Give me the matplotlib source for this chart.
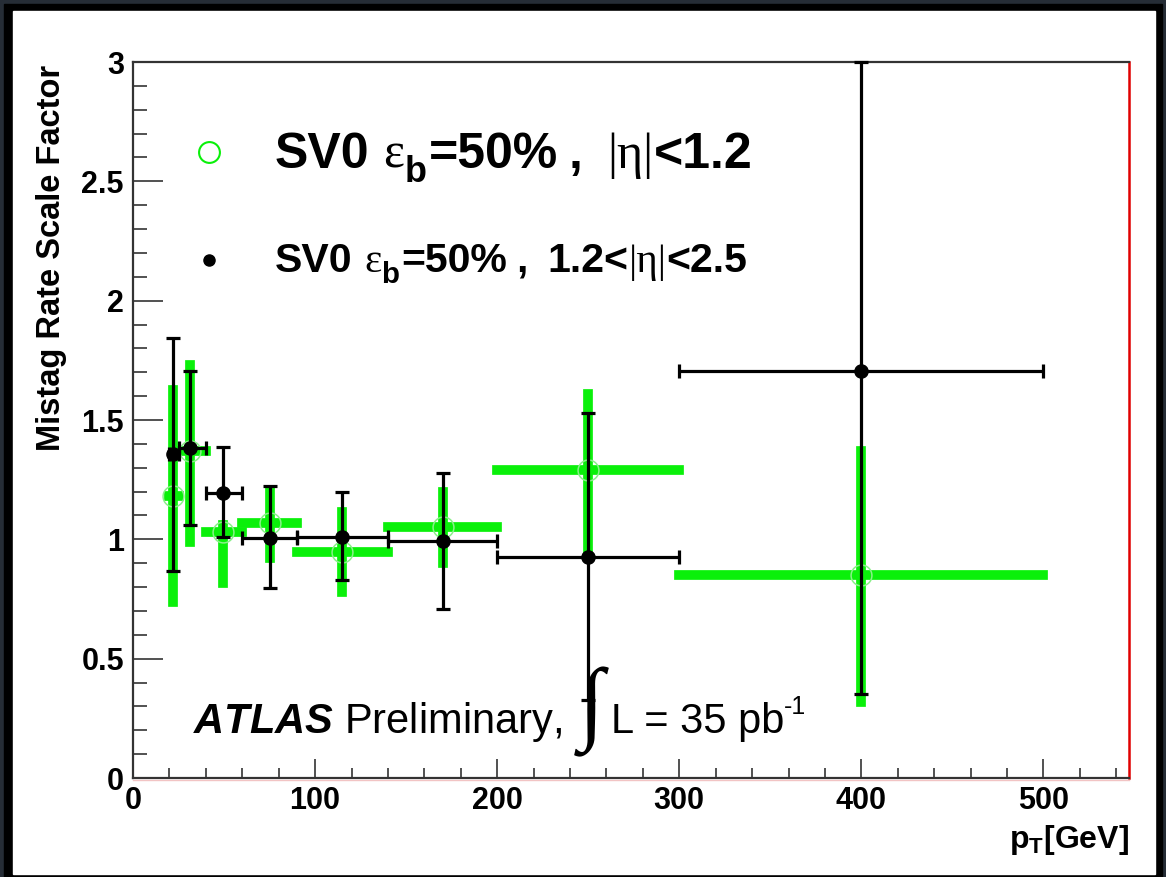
import matplotlib
matplotlib.use("Agg")
import matplotlib.pyplot as plt
from matplotlib.patches import Rectangle
from matplotlib.lines import Line2D
from matplotlib.ticker import MultipleLocator

# pT bins (GeV) and measured points
bin_lo = [20, 25, 40, 60, 90, 140, 200, 300]
bin_hi = [25, 40, 60, 90, 140, 200, 300, 500]
pt_point = [21.8, 31.5, 49.3, 75, 115, 170, 250, 400]
x_ticks = [0, 100, 200, 300, 400, 500]
y_ticks = [0, 0.5, 1, 1.5, 2, 2.5, 3]

# |eta| < 1.2
sf_central = [1.18, 1.37, 1.03, 1.07, 0.945, 1.053, 1.29, 0.85]
sf_central_hi = [1.625, 1.73, 1.06, 1.20, 1.115, 1.20, 1.61, 1.37]
sf_central_lo = [0.739, 0.99, 0.815, 0.92, 0.78, 0.90, 0.96, 0.32]

# 1.2 < |eta| < 2.5
sf_forward = [1.357, 1.383, 1.195, 1.004, 1.011, 0.994, 0.926, 1.705]
sf_forward_hi = [1.842, 1.706, 1.388, 1.223, 1.20, 1.28, 1.53, 3.0]
sf_forward_lo = [0.868, 1.06, 1.011, 0.795, 0.83, 0.71, 0.327, 0.35]

W, H = 1166, 877
SANS = ['Liberation Sans', 'DejaVu Sans']
SERIF = ['Liberation Serif', 'DejaVu Serif']
plt.rcParams['font.family'] = SANS
plt.rcParams['font.weight'] = 'bold'
plt.rcParams['mathtext.fontset'] = 'custom'
plt.rcParams['mathtext.rm'] = 'Liberation Sans:bold'
plt.rcParams['mathtext.bf'] = 'Liberation Sans:bold'
plt.rcParams['mathtext.it'] = 'Liberation Sans:bold:italic'


def fx(x):
    return x / W


def fy(y):
    return 1 - y / H


fig = plt.figure(figsize=(W / 100, H / 100), dpi=100, facecolor='#262d36')
renderer = fig.canvas.get_renderer()
fig.add_artist(Rectangle((fx(4), fy(877)), (1162 - 4) / W, (877 - 4) / H,
                         transform=fig.transFigure, color='black', zorder=-10))
fig.add_artist(Rectangle((fx(13), fy(874)), (1155 - 13) / W, (874 - 11) / H,
                         transform=fig.transFigure, color='white', zorder=-9))

ax = fig.add_axes([fx(133), fy(778), (1129 - 133) / W, (778 - 62) / H])
ax.set_facecolor('none')
ax.set_xlim(0, 547)
ax.set_ylim(0, 3)


def xerr(points):
    return [[p - lo for p, lo in zip(points, bin_lo)],
            [hi - p for p, hi in zip(points, bin_hi)]]


def yerr(vals, lo, hi):
    return [[v - l for v, l in zip(vals, lo)], [h - v for v, h in zip(vals, hi)]]


green = '#0af00a'
eb = ax.errorbar(pt_point, sf_central, xerr=xerr(pt_point),
                 yerr=yerr(sf_central, sf_central_lo, sf_central_hi),
                 fmt='o', mfc='none', mec='#8af08a', ms=15, mew=1.1,
                 ecolor=green, elinewidth=7, capsize=0, zorder=2)
for lc in eb[2]:
    lc.set_capstyle('projecting')

ax.errorbar(pt_point, sf_forward, xerr=xerr(pt_point),
            yerr=yerr(sf_forward, sf_forward_lo, sf_forward_hi),
            fmt='o', color='black', ms=9.5, elinewidth=2.3,
            capsize=5, capthick=2.3, zorder=3, clip_on=False)

# axes styling
for side in ['left', 'top', 'bottom']:
    ax.spines[side].set_color('#333333')
    ax.spines[side].set_linewidth(1.6)
ax.spines['right'].set_color('#e00000')
ax.spines['right'].set_linewidth(1.8)

ax.set_xticks(x_ticks)
ax.set_yticks(y_ticks)
ax.set_yticklabels(['0', '0.5', '1', '1.5', '2', '2.5', '3'])
ax.xaxis.set_minor_locator(MultipleLocator(20))
ax.yaxis.set_minor_locator(MultipleLocator(0.1))
ax.tick_params(axis='both', which='both', direction='in', color='#333333',
               width=1.2, top=False, right=False, labelsize=22)
ax.tick_params(axis='y', which='major', length=21.5, pad=6.5)
ax.tick_params(axis='y', which='minor', length=10)
ax.tick_params(axis='x', which='major', length=13.5, pad=6.0)
ax.tick_params(axis='x', which='minor', length=7)

fig.add_artist(Line2D([fx(133), fx(1129)], [fy(780), fy(780)],
                      transform=fig.transFigure, color='#f2c4c4', lw=1.0))

# axis titles
fig.text(fx(52), fy(65), 'Mistag Rate Scale Factor', rotation=90,
         ha='center', va='top', fontsize=23.5, fontweight='bold')
fig.text(fx(1129), fy(848), r'p$_{\mathbf{T}}$[GeV]', ha='right',
         va='baseline', fontsize=23, fontweight='bold')


def run_text(x0, ybase, pieces):
    """Lay out a row of text pieces left to right; a float is a gap in pixels."""
    x = x0
    for piece in pieces:
        if isinstance(piece, (int, float)):
            x += piece
            continue
        s, size, family, weight, dy = piece
        t = fig.text(fx(x), fy(ybase + dy), s, fontsize=size, family=family,
                     fontweight=weight, va='baseline', ha='left')
        x += t.get_window_extent(renderer).width


def legend_row(y, size, tail):
    px = size * 100 / 72
    sub = (size * 0.72, SANS, 'bold', 0.28 * px)
    pieces = [('SV0', size, SANS, 'bold', 0), 0.28 * px,
              ('ε', size, SERIF, 'normal', 0), ('b',) + sub, 0.04 * px,
              ('=50%', size, SANS, 'bold', 0), 0.22 * px,
              (',', size, SANS, 'bold', 0), 0.5 * px] + tail
    run_text(275, y, pieces)


# legend
fig.add_artist(Line2D([fx(209)], [fy(152)], transform=fig.transFigure,
                      marker='o', mfc='none', mec=green, ms=15, mew=1.5))
fig.add_artist(Line2D([fx(209)], [fy(260)], transform=fig.transFigure,
                      marker='o', color='black', ms=8))
s1 = 36
legend_row(168, s1, [('|η|', s1, SERIF, 'normal', 0), ('<1.2', s1, SANS, 'bold', 0)])
s2 = 29.5
legend_row(272, s2, [('1.2<', s2, SANS, 'bold', 0), ('|η|', s2, SERIF, 'normal', 0),
                     ('<2.5', s2, SANS, 'bold', 0)])

# experiment label
fig.text(fx(193), fy(733), r'$\mathit{ATLAS}$ Preliminary,', fontsize=30,
         fontweight='normal', va='baseline')
fig.text(fx(591), fy(712), '∫', family=SERIF,
         fontsize=66, fontweight='normal', ha='center', va='center')
run_text(611, 733, [('L = 35 pb', 30, SANS, 'normal', 0),
                    ('-1', 18, SANS, 'normal', -19)])

fig.savefig('out.png', dpi=100, facecolor=fig.get_facecolor())
